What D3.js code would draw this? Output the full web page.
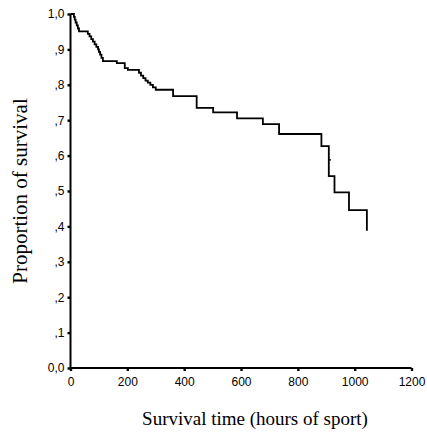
<!DOCTYPE html>
<html>
<head>
<meta charset="utf-8">
<script src="https://cdn.jsdelivr.net/npm/d3@7/dist/d3.min.js"></script>
<style>
  html, body { margin: 0; padding: 0; background: #fff; }
  svg { display: block; }
</style>
</head>
<body>
<svg id="chart" width="427" height="439"></svg>
<script>
// Kaplan-Meier step data: event times (hours) and survival after each event
const eventTimes = [0, 12, 15, 18, 22, 26, 30, 61, 67, 73, 79, 85, 91, 97, 100, 104, 109, 114,
  163, 191, 202, 241, 248, 256, 264, 272, 281, 290, 300, 361, 444, 502, 586, 677, 734, 883, 909, 929, 980, 1043];
const survival = [1.0, 0.992, 0.984, 0.976, 0.968, 0.959, 0.951, 0.944, 0.937, 0.929, 0.922, 0.914, 0.907, 0.900, 0.893, 0.885, 0.876, 0.867,
  0.861, 0.847, 0.842, 0.834, 0.826, 0.819, 0.812, 0.806, 0.800, 0.793, 0.786, 0.768, 0.735, 0.722, 0.705, 0.689, 0.661, 0.627, 0.542, 0.496, 0.446, 0.388];
const lastTime = 1043;
const lastSurvival = 0.388;
const censorTimes = [909];
const censorValues = [0.588];

const xTicks = [0, 200, 400, 600, 800, 1000, 1200];
const yTicks = [0, 0.1, 0.2, 0.3, 0.4, 0.5, 0.6, 0.7, 0.8, 0.9, 1.0];
const yTickLabels = ["0,0", ",1", ",2", ",3", ",4", ",5", ",6", ",7", ",8", ",9", "1,0"];
const xTitle = "Survival time (hours of sport)";
const yTitle = "Proportion of survival";

const svg = d3.select("#chart");
const x = d3.scaleLinear().domain([0, 1200]).range([70.5, 411.5]);
const y = d3.scaleLinear().domain([0, 1]).range([368, 14]);

const xAxis = d3.axisBottom(x).tickValues(xTicks).tickSize(3).tickPadding(5).tickFormat(d3.format("d"));
const yAxis = d3.axisLeft(y).tickValues(yTicks).tickSize(3).tickPadding(3).tickFormat((d, i) => yTickLabels[i]);

const gx = svg.append("g").attr("transform", "translate(0,368)").call(xAxis);
const gy = svg.append("g").attr("transform", "translate(70.5,0)").call(yAxis);
[gx, gy].forEach(g => {
  g.select(".domain").remove();
  g.selectAll(".tick line").attr("stroke", "#000").attr("stroke-width", 2.4);
  g.selectAll(".tick text").attr("fill", "#000")
    .style("font-family", "'Liberation Sans', Arial, sans-serif").style("font-size", "12px");
});
gx.selectAll(".tick text").attr("dy", "0.85em");

// Axis lines
svg.append("line").attr("x1", x(0)).attr("x2", x(1200)).attr("y1", y(0)).attr("y2", y(0))
  .attr("stroke", "#000").attr("stroke-width", 2);
svg.append("line").attr("x1", x(0)).attr("x2", x(0)).attr("y1", y(0)).attr("y2", y(1))
  .attr("stroke", "#000").attr("stroke-width", 2);

// Step curve
const pts = eventTimes.map((t, i) => [t, survival[i]]);
pts.push([lastTime, lastSurvival]);
const line = d3.line().x(d => x(d[0])).y(d => y(d[1])).curve(d3.curveStepAfter);
svg.append("path").datum(pts).attr("d", line)
  .attr("fill", "none").attr("stroke", "#000").attr("stroke-width", 1.8);

// censor marks
svg.selectAll(".cens").data(censorTimes).enter().append("line")
  .attr("x1", d => x(d)).attr("x2", d => x(d) + 2)
  .attr("y1", (d, i) => y(censorValues[i])).attr("y2", (d, i) => y(censorValues[i]))
  .attr("stroke", "#000").attr("stroke-width", 1.6);

// Titles
svg.append("text").attr("x", 255).attr("y", 425).attr("text-anchor", "middle")
  .style("font-family", "'Liberation Serif', 'Times New Roman', serif").style("font-size", "19px")
  .text(xTitle);
svg.append("text").attr("transform", "translate(27,191) rotate(-90)").attr("text-anchor", "middle")
  .style("font-family", "'Liberation Serif', 'Times New Roman', serif").style("font-size", "21px")
  .text(yTitle);
</script>
</body>
</html>
